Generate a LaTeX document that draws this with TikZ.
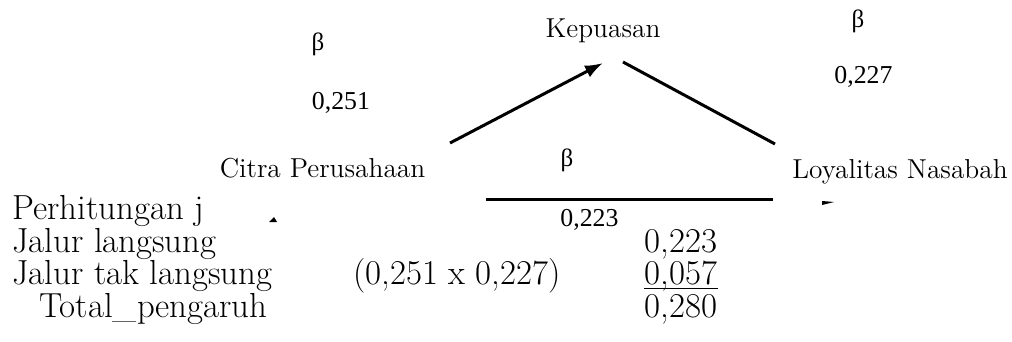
\documentclass[tikz,border=0pt]{standalone}
\usepackage{fontspec}
\newfontfamily\coeffont{Liberation Serif}
\usepackage{tikz}
\usetikzlibrary{arrows.meta,positioning}
\tikzstyle{var} = [inner sep=0pt, anchor=base, font=\fontsize{13.7}{16}\selectfont]
\tikzstyle{coef} = [inner sep=0pt, anchor=base, font=\fontsize{12.9}{15}\selectfont\coeffont]
\tikzstyle{beta} = [inner sep=0pt, anchor=base, font=\fontsize{12.5}{14}\selectfont\coeffont]
\tikzstyle{calc} = [inner sep=0pt, anchor=base west, text height=0.7em, text depth=0.2em, font=\fontsize{17.4}{20}\selectfont]
\tikzstyle{num} = [inner sep=0pt, anchor=base, text height=0.7em, text depth=0.2em, font=\fontsize{17.4}{20}\selectfont]
\tikzstyle{line} = [draw, line width=1.5pt]
\tikzstyle{arrow} = [draw, line width=1.5pt, -{Latex[length=9pt,width=6.5pt]}]

\begin{document}
\begin{tikzpicture}[x=0.5pt, y=-0.5pt]
        \useasboundingbox (0,0) rectangle (1012,342);
        % model
        \node[var]                  (kep)   at (603,38)    {Kepuasan};
        \node[var]                  (citra) at (322.5,177) {Citra Perusahaan};
        \node[var]                  (loyal) at (900,178)   {Loyalitas Nasabah};

        \node[beta]                 (b1) at (318,51)    {β};
        \node[coef]                 (v1) at (341,110)   {0,251};
        \node[beta]                 (b2) at (858,28)    {β};
        \node[coef]                 (v2) at (863.5,84)  {0,227};
        \node[beta]                 (b3) at (567,167)   {β};
        \node[coef]                 (v3) at (589.5,226) {0,223};

        \path[arrow] ([shift={(127.5,-34)}]citra.base) -- ([shift={(0,25)}]kep.base);
        \path[line]  ([shift={(20,24)}]kep.base)       -- ([shift={(-125,-34)}]loyal.base);
        \path[line]  ([shift={(163.5,22)}]citra.base)  -- ([shift={(-127,21)}]loyal.base);

        % clipped tips
        \fill ([shift={(-78,23)}]loyal.base) -- ++(12,1) -- ++(-12,3) -- cycle;
        \fill ([shift={(-53.5,45)}]citra.base) -- ++(8,0) -- ++(-3,-5) -- cycle;

        % perhitungan
        \node[calc]                 (judul) at (12,219) {Perhitungan j};
        \node[calc]                 (jl)    at (12,252) {Jalur langsung};
        \node[calc]                 (jtl)   at (12,284) {Jalur tak langsung};
        \node[calc]                 (tot)   at (39,317) {Total\_pengaruh};
        \node[num]                  (kali)  at (457,284) {(0,251 x 0,227)};
        \node[num]                  (n1)    at (681,252) {0,223};
        \node[num]                  (n2)    at (681,284) {0,057};
        \node[num]                  (n3)    at (681,317) {0,280};
        \draw[line width=0.7pt] ([yshift=-2.1pt]n2.base west) -- ([yshift=-2.1pt]n2.base east);
      \end{tikzpicture}
\end{document}
